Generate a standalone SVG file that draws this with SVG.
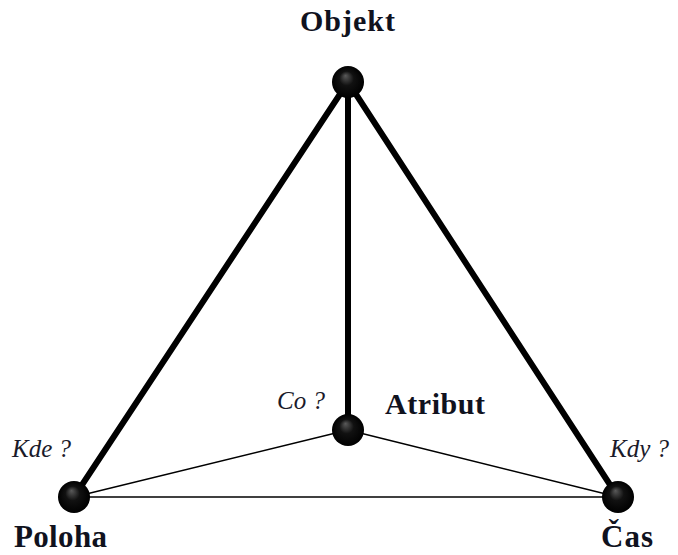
<svg xmlns="http://www.w3.org/2000/svg" width="678" height="555" viewBox="0 0 678 555">
<defs>
<radialGradient id="ball" cx="0.5" cy="0.5" r="0.5" fx="0.42" fy="0.3">
<stop offset="0" stop-color="#5a5a5a"/>
<stop offset="0.45" stop-color="#111"/>
<stop offset="1" stop-color="#000"/>
</radialGradient>
</defs>
<style>
.thick{stroke:#000;stroke-width:6;stroke-linecap:round;fill:none}
.thin{stroke:#000;stroke-width:1.5;fill:none}
.lbl{font-family:"Liberation Serif",serif;font-weight:bold;font-size:30px;fill:#10121e}
.big{font-size:31px}
.q{font-family:"Liberation Serif",serif;font-style:italic;font-size:25px;fill:#1a1a2a}
.ball{fill:url(#ball)}
</style>
<rect width="678" height="555" fill="#fff"/>
<g id="connectors">
<line class="thin" x1="74" y1="497" x2="618" y2="497"/>
<line class="thin" x1="74" y1="497" x2="348" y2="430"/>
<line class="thin" x1="618" y1="497" x2="348" y2="430"/>
<line class="thick" x1="348" y1="82" x2="74" y2="497"/>
<line class="thick" x1="348" y1="82" x2="618" y2="497"/>
<line class="thick" x1="348" y1="82" x2="348" y2="430"/>
</g>
<g id="objekt">
<circle class="ball" cx="348" cy="82" r="16"/>
<text class="lbl" x="300" y="31" textLength="95" lengthAdjust="spacing">Objekt</text>
</g>
<g id="atribut">
<circle class="ball" cx="348" cy="430" r="16"/>
<text class="lbl" x="385" y="414" textLength="100" lengthAdjust="spacing">Atribut</text>
<text class="q" x="277" y="409">Co ?</text>
</g>
<g id="poloha">
<circle class="ball" cx="74" cy="497" r="16"/>
<text class="lbl big" x="14" y="547" textLength="93" lengthAdjust="spacing">Poloha</text>
<text class="q" x="12" y="457">Kde ?</text>
</g>
<g id="cas">
<circle class="ball" cx="618" cy="497" r="16"/>
<text class="lbl big" x="601" y="547" textLength="52" lengthAdjust="spacing">Čas</text>
<text class="q" x="610" y="457">Kdy ?</text>
</g>
</svg>
